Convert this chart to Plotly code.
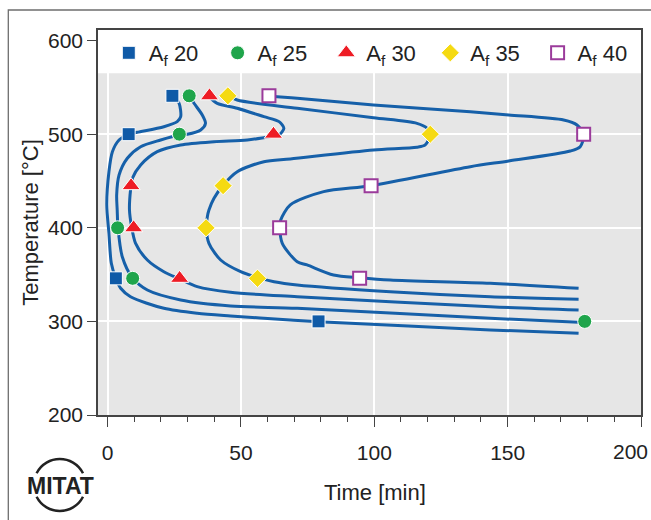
import plotly.graph_objects as go

# ---------------- data ----------------
series_names = ["A<sub>f</sub> 20", "A<sub>f</sub> 25", "A<sub>f</sub> 30", "A<sub>f</sub> 35", "A<sub>f</sub> 40"]

# marker points (time [min], temperature [°C])
af20_time = [24.3, 7.9, 3.1, 79.1]
af20_temp = [541, 500, 346, 300]
af25_time = [30.6, 26.9, 3.75, 9.4, 178.9]
af25_temp = [541, 500, 400, 346, 300]
af30_time = [38.2, 62.2, 8.8, 9.75, 27.0]
af30_temp = [541, 500, 445, 400, 346]
af35_time = [45.1, 121.0, 43.3, 36.9, 56.2]
af35_temp = [541, 500, 445, 400, 346]
af40_time = [60.5, 178.5, 98.8, 64.5, 94.5]
af40_temp = [541, 500, 445, 400, 346]

# transformation curves (time [min], temperature [°C])
c20_time = [24.6, 26.8, 27.4, 26.1, 21.1, 11.1, 8.0, 4.3, 1.8, 0.5, -0.3, 0.5, 1.4, 3.0, 4.9, 8.6,
            21.1, 33.6, 46.1, 68.5, 79.1, 143.5, 176.6]
c20_temp = [541.1, 533.0, 518.7, 513.4, 508.0, 502.0, 499.9, 493.8, 481.3, 459.9, 424.4, 394.1, 362.1,
            346.7, 335.4, 326.4, 314.0, 308.7, 305.8, 301.5, 299.7, 290.9, 287.3]

c25_time = [30.7, 32.4, 35.5, 36.7, 34.9, 29.9, 26.8, 19.9, 12.4, 7.4, 4.3, 3.4, 3.6, 3.9, 5.5, 9.3,
            14.9, 27.4, 46.1, 71.1, 143.5, 176.6]
c25_temp = [540.8, 533.0, 520.5, 511.6, 504.5, 499.9, 499.1, 493.8, 486.6, 474.3, 456.4, 435.0, 419.0,
            400.1, 369.1, 346.7, 333.5, 322.9, 316.5, 314.0, 303.3, 299.0]

c30_time = [38.0, 41.1, 48.6, 58.6, 64.3, 66.1, 64.3, 62.4, 52.4, 39.9, 27.4, 18.6, 12.4, 9.3, 8.6,
            8.2, 9.0, 10.5, 14.9, 21.1, 27.1, 33.6, 46.1, 71.1, 143.5, 176.6]
c30_temp = [540.1, 533.0, 527.7, 518.7, 513.4, 506.3, 499.1, 498.1, 493.8, 492.0, 488.5, 481.3, 467.1,
            452.9, 440.4, 419.0, 401.2, 383.4, 365.6, 353.1, 345.3, 337.1, 331.1, 326.4, 315.7, 312.2]

c35_time = [45.5, 48.6, 71.1, 99.7, 116.0, 119.8, 121.0, 119.1, 116.0, 99.7, 68.5, 58.6, 48.6, 43.4,
            39.9, 38.0, 37.4, 37.0, 38.0, 42.4, 49.9, 56.4, 62.4, 71.1, 106.0, 143.5, 176.6]
c35_temp = [541.1, 536.5, 527.7, 517.6, 511.6, 506.3, 499.9, 488.5, 486.0, 483.1, 473.5, 470.6, 459.9,
            445.7, 431.5, 419.0, 411.9, 399.5, 383.4, 365.6, 353.1, 346.7, 342.4, 338.9, 331.7, 326.4, 323.6]

c40_time = [60.5, 63.6, 71.1, 99.7, 136.0, 150.4, 171.0, 176.0, 178.5, 177.2, 173.5, 150.4, 136.0,
            98.9, 81.0, 68.5, 64.9, 64.6, 65.5, 71.1, 74.8, 84.7, 94.5, 106.0, 143.5, 176.6]
c40_temp = [540.8, 540.1, 538.4, 531.2, 524.0, 520.5, 515.1, 509.8, 499.1, 486.6, 482.0, 471.4, 465.3,
            445.0, 438.6, 424.4, 408.3, 399.5, 383.4, 363.8, 360.3, 349.6, 346.7, 344.2, 340.7, 335.4]

x_ticks = [0, 50, 100, 150, 200]
x_tick_labels = ["0", "50", "100", "150", "200"]
y_ticks = [200, 300, 400, 500, 600]

# ---------------- geometry helpers (pixels -> paper) ----------------
W, H = 651, 520
L, R, T, B = 97.7, 10.3, 30, 105
PW, PH = W - L - R, H - T - B


def px(x):
    return (x - L) / PW


def py(y):
    return (H - B - y) / PH


CURVE_COLOR = "#1660a9"
FONT = "Liberation Sans, Arial, sans-serif"
TXT = "#222222"

fig = go.Figure()

curves = [(c20_time, c20_temp), (c25_time, c25_temp), (c30_time, c30_temp),
          (c35_time, c35_temp), (c40_time, c40_temp)]
for ct, cT in curves:
    fig.add_trace(go.Scatter(x=ct, y=cT, mode="lines",
                             line=dict(color=CURVE_COLOR, width=3, shape="spline", smoothing=0.8),
                             showlegend=False, hoverinfo="skip"))

marker_sets = [
    (af20_time, af20_temp, dict(symbol="square", size=13, color="#0f5aa7", line=dict(color="white", width=1))),
    (af25_time, af25_temp, dict(symbol="circle", size=14, color="#1fa54b", line=dict(color="white", width=1))),
    (af30_time, af30_temp, dict(symbol="triangle-up", size=16, color="#ee1c25", line=dict(color="white", width=1))),
    (af35_time, af35_temp, dict(symbol="diamond", size=14, color="#f5da12", line=dict(color="white", width=1))),
    (af40_time, af40_temp, dict(symbol="square", size=13, color="white", line=dict(color="#9b3b9b", width=2))),
]
legend_ids = ["legend", "legend2", "legend3", "legend4", "legend5"]
legend_symbol_px = [128.5, 237.3, 346, 450, 557.3]   # legend entry positions (pixels)

for name, lid, (mt, mT, mk) in zip(series_names, legend_ids, marker_sets):
    fig.add_trace(go.Scatter(x=mt, y=mT, mode="markers", name=name, marker=mk, legend=lid))

shapes = [
    # grey plotting field below the white legend band
    dict(type="rect", xref="paper", yref="y", x0=0, x1=1, y0=200, y1=565,
         fillcolor="#e6e6e6", line=dict(width=0), layer="below"),
    # outer frame
    dict(type="path", xref="paper", yref="paper",
         path=f"M {px(8)},{py(525)} L {px(8)},{py(10)} L {px(660)},{py(10)}",
         line=dict(color="#6e6e6e", width=1.3)),
]
# MITAT logo arcs
for (y0, yc) in [(473.2, 454.3), (496.8, 515.7)]:
    shapes.append(dict(type="path", xref="paper", yref="paper",
                       path=(f"M {px(36.3)},{py(y0)} C {px(45.9)},{py(yc)} {px(73.1)},{py(yc)} "
                             f"{px(82.7)},{py(y0)}"),
                       line=dict(color="#222222", width=2.5)))

legend_layouts = {}
for lid, sx in zip(legend_ids, legend_symbol_px):
    legend_layouts[lid] = dict(orientation="h", x=px(sx - 20), xanchor="left", y=py(53), yanchor="middle",
                               bgcolor="rgba(0,0,0,0)", font=dict(size=22, color=TXT), itemwidth=30)

fig.update_layout(
    width=W, height=H,
    margin=dict(l=L, r=R, t=T, b=B, pad=0),
    paper_bgcolor="white", plot_bgcolor="white",
    font=dict(family=FONT, color=TXT, size=21),
    shapes=shapes,
    showlegend=True,
    annotations=[
        dict(text="<b>MITAT</b>", xref="paper", yref="paper", x=px(60.5), y=py(485.5),
             xanchor="center", yanchor="middle", showarrow=False,
             font=dict(family=FONT, size=23, color="#222222")),
        dict(text="Time [min]", xref="paper", yref="paper", x=px(375), y=py(492),
             xanchor="center", yanchor="middle", showarrow=False,
             font=dict(family=FONT, size=22, color=TXT)),
        # last x tick label, moved inward so it stays inside the picture
        dict(text=x_tick_labels[-1], xref="paper", yref="paper", x=px(650), y=py(451),
             xanchor="right", yanchor="middle", showarrow=False,
             font=dict(family=FONT, size=21, color=TXT)),
    ],
    **legend_layouts,
)

fig.update_xaxes(range=[-3.6, 200], tickvals=x_ticks, ticktext=x_tick_labels[:-1] + [""],
                 ticks="outside", ticklen=10, tickwidth=1.3,
                 tickcolor="#444", showline=True, linecolor="#444", linewidth=1.5, mirror=True,
                 showgrid=True, gridcolor="white", gridwidth=1.5, zeroline=False,
                 minor=dict(dtick=10, tick0=0, ticks="outside", ticklen=5, tickwidth=1.3,
                            tickcolor="#444", showgrid=False),
                 ticklabelstandoff=8, automargin=False)
fig.update_yaxes(range=[200, 611.3], tickvals=y_ticks, ticks="outside", ticklen=9, tickwidth=1.3,
                 tickcolor="#444", showline=True, linecolor="#444", linewidth=1.5, mirror=True,
                 showgrid=True, gridcolor="white", gridwidth=1.5, zeroline=False,
                 ticklabeloverflow="allow", automargin=False,
                 title=dict(text="Temperature [°C]", font=dict(size=22), standoff=3))

fig.write_html("out.html", config={"displayModeBar": False},
               post_script="document.body.style.margin='0';document.body.style.padding='0';")
